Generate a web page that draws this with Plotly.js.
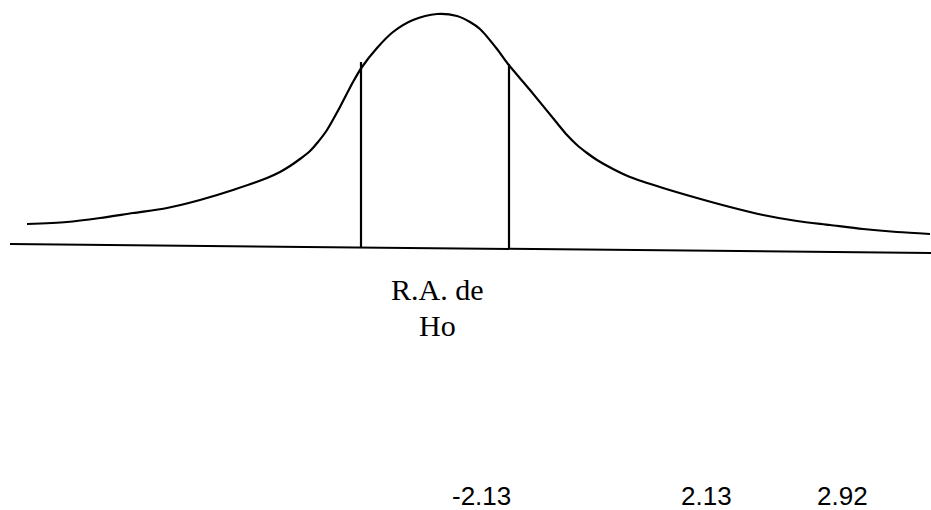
<!DOCTYPE html>
<html>
<head>
<meta charset="utf-8">
<script src="https://cdn.plot.ly/plotly-3.0.1.min.js"></script>
<style>
	html, body { margin: 0; padding: 0; background: #fff; }
	#plot { width: 931px; height: 510px; }
</style>
</head>
<body>
<div id="plot"></div>
<script>
	// curve (x along the page, height above the base line)
	const curveX = [27, 67, 100, 133, 167, 200, 233, 267, 280, 290, 300, 310, 318, 327, 340, 353, 362, 377, 393, 413, 437, 457, 470, 480, 497, 508, 530, 557, 567, 577, 587, 597, 613, 630, 663, 697, 730, 763, 797, 830, 863, 897, 930];
	const curveY = [24, 26, 30, 35, 40, 48, 58, 70, 76, 82, 89, 97, 106, 118, 141, 166, 181, 200, 216, 228, 234, 232, 226, 219, 199, 184, 158, 125, 113, 103, 95, 88, 79, 71, 60, 50, 41, 33, 27, 23, 19, 16, 14];

	// base line (slightly tilted in the scan)
	const baseX = [10, 931];
	const baseY = [4, -5];

	// the two cut-off lines of the acceptance region
	const cutX = [361, 509];
	const cutTop = [186, 184];

	const regionLines = ["R.A. de", "Ho"];
	const tickLabels = ["-2.13", "2.13", "2.92"];
	const tickX = [481, 706, 842];

	function run() {
		const ink = "#000";
		let traces = [
			{
				x: curveX, y: curveY,
				mode: "lines",
				line: { color: ink, width: 2.2, shape: "spline", smoothing: 0.8 },
				hoverinfo: "skip"
			},
			{
				x: baseX, y: baseY,
				mode: "lines",
				line: { color: ink, width: 2 },
				hoverinfo: "skip"
			}
		];
		cutX.forEach((cx, i) => {
			traces.push({
				x: [cx, cx], y: [0, cutTop[i]],
				mode: "lines",
				line: { color: ink, width: 2.2 },
				hoverinfo: "skip"
			});
		});

		let annotations = regionLines.map((t, i) => ({
			x: 437, y: -41 - 36 * i,
			xref: "x", yref: "y",
			text: t,
			showarrow: false,
			font: { family: "Liberation Serif, Times New Roman, serif", size: 30, color: ink }
		}));
		tickLabels.forEach((t, i) => {
			annotations.push({
				x: tickX[i], y: -248,
				xref: "x", yref: "y",
				text: t,
				showarrow: false,
				font: { family: "Liberation Sans, Arial, sans-serif", size: 26, color: ink }
			});
		});

		let layout = {
			width: 931, height: 510,
			margin: { l: 0, r: 0, t: 0, b: 0 },
			paper_bgcolor: "#fff",
			plot_bgcolor: "#fff",
			showlegend: false,
			xaxis: { range: [0, 931], visible: false, fixedrange: true },
			yaxis: { range: [-262, 248], visible: false, fixedrange: true },
			annotations: annotations
		};

		Plotly.newPlot("plot", traces, layout, { staticPlot: true });
	}
	run();
</script>
</body>
</html>
